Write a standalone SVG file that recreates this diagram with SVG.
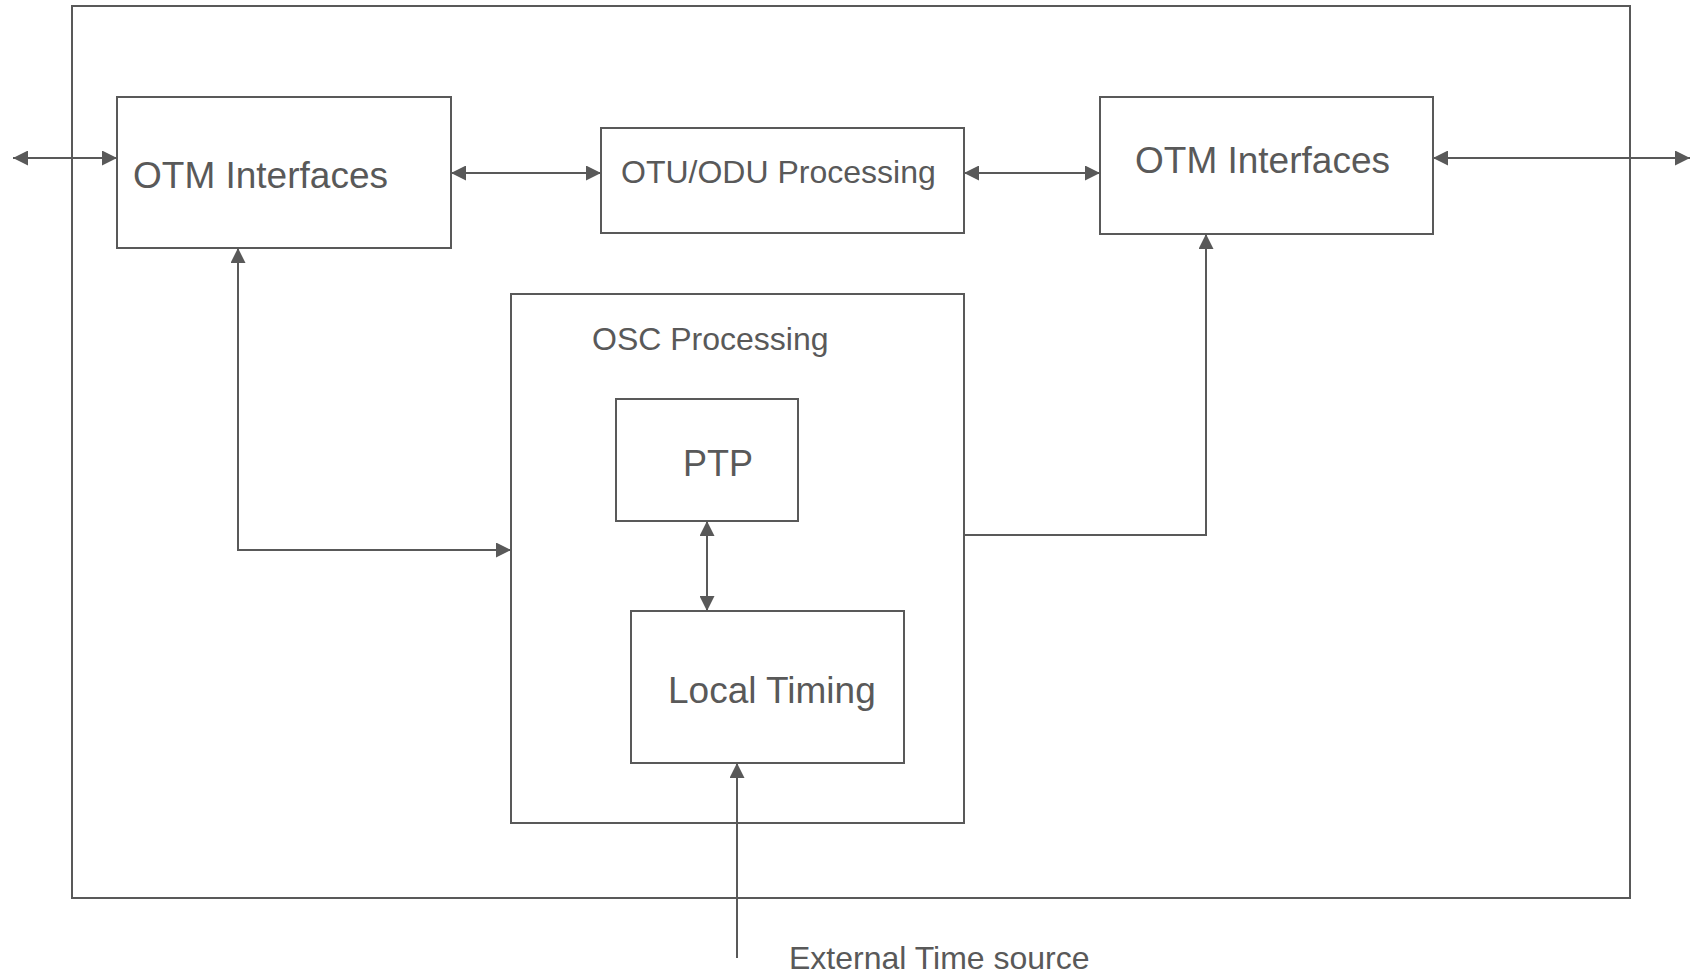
<svg xmlns="http://www.w3.org/2000/svg" width="1699" height="973" viewBox="0 0 1699 973">
<style>
.box{fill:#fff;stroke:#595959;stroke-width:2}
.frame{fill:none;stroke:#595959;stroke-width:2}
.ln{fill:none;stroke:#595959;stroke-width:2}
.t{font-family:"Liberation Sans",Arial,sans-serif;fill:#595959}
</style>
<defs>
<marker id="ah" markerUnits="userSpaceOnUse" markerWidth="15" markerHeight="15" refX="15" refY="7.5" orient="auto-start-reverse" viewBox="0 0 15 15">
<path d="M0,0 L15,7.5 L0,15 z" fill="#595959"/>
</marker>
</defs>
<rect width="1699" height="973" fill="#fff"/>
<g id="frame"><rect class="frame" x="72" y="6" width="1558" height="892"/></g>
<g id="otm-left"><rect class="box" x="117" y="97" width="334" height="151"/><text class="t" x="133" y="188" font-size="37">OTM Interfaces</text></g>
<g id="otu-odu"><rect class="box" x="601" y="128" width="363" height="105"/><text class="t" x="621" y="183" font-size="32">OTU/ODU Processing</text></g>
<g id="otm-right"><rect class="box" x="1100" y="97" width="333" height="137"/><text class="t" x="1135" y="173" font-size="37">OTM Interfaces</text></g>
<g id="osc"><rect class="box" x="511" y="294" width="453" height="529"/><text class="t" x="592" y="350" font-size="32">OSC Processing</text></g>
<g id="ptp"><rect class="box" x="616" y="399" width="182" height="122"/><text class="t" x="683" y="476" font-size="36">PTP</text></g>
<g id="local-timing"><rect class="box" x="631" y="611" width="273" height="152"/><text class="t" x="668" y="703" font-size="37">Local Timing</text></g>
<g id="ext-label"><text class="t" x="789" y="969" font-size="32">External Time source</text></g>
<g id="connectors">
<line class="ln" x1="13" y1="158" x2="117" y2="158" marker-start="url(#ah)" marker-end="url(#ah)"/>
<line class="ln" x1="451" y1="173" x2="601" y2="173" marker-start="url(#ah)" marker-end="url(#ah)"/>
<line class="ln" x1="964" y1="173" x2="1100" y2="173" marker-start="url(#ah)" marker-end="url(#ah)"/>
<line class="ln" x1="1433" y1="158" x2="1690" y2="158" marker-start="url(#ah)" marker-end="url(#ah)"/>
<polyline class="ln" points="238,248 238,550 511,550" marker-start="url(#ah)" marker-end="url(#ah)"/>
<polyline class="ln" points="964,535 1206,535 1206,234" marker-end="url(#ah)"/>
<line class="ln" x1="707" y1="521" x2="707" y2="611" marker-start="url(#ah)" marker-end="url(#ah)"/>
<line class="ln" x1="737" y1="958" x2="737" y2="763" marker-end="url(#ah)"/>
</g>
</svg>
